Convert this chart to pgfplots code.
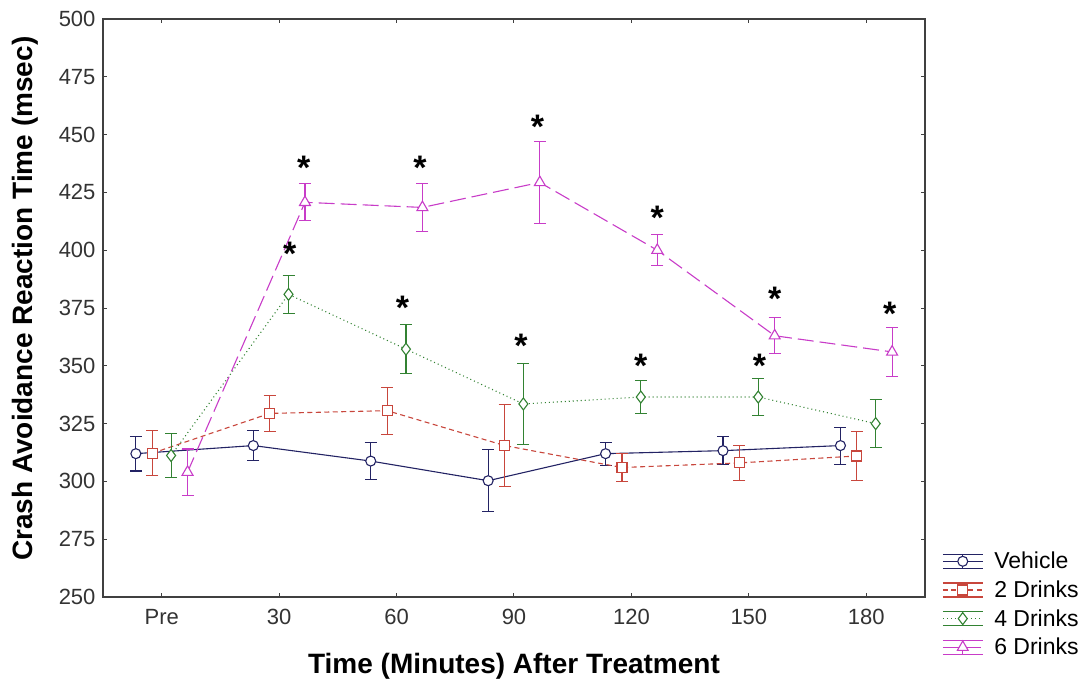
\documentclass[border=0pt]{standalone}
\usepackage{fontspec}
\setmainfont{Liberation Sans}
\usepackage{pgfplots}
\pgfplotsset{compat=1.18}
\definecolor{cnavy}{HTML}{232364}
\definecolor{cred}{HTML}{C8463C}
\definecolor{cgreen}{HTML}{328232}
\definecolor{cmag}{HTML}{C83CC8}
\definecolor{caxis}{HTML}{404040}
\begin{document}
\begin{tikzpicture}
\useasboundingbox (-103pt,-84pt) rectangle (981pt,597pt);
\begin{axis}[
  at={(0pt,0pt)}, anchor=south west,
  scale only axis, width=822pt, height=578pt,
  xmin=-0.5, xmax=6.5, ymin=250, ymax=500,
  xtick={0,1,2,3,4,5,6},
  xticklabels={Pre,30,60,90,120,150,180},
  ytick={250,275,300,325,350,375,400,425,450,475,500},
  tick align=inside, major tick length=4pt,
  axis line style={caxis, line width=1.2pt},
  tick style={caxis, line width=1pt},
  /pgf/number format/assume math mode=true,
  ticklabel style={font=\fontsize{22}{26}\selectfont, text=black!80},
  yticklabel style={xshift=-4pt},
  xticklabel style={yshift=-9pt},
  every axis x label/.style={at={(axis description cs:0.5,0)}, anchor=base, yshift=-76pt},
  every axis y label/.style={at={(axis description cs:-0.0852,0.516)}, rotate=90, anchor=base},
  label style={font=\fontsize{28}{32}\selectfont\bfseries},
  xlabel={Time (Minutes) After Treatment},
  ylabel={Crash Avoidance Reaction Time (msec)},
  legend style={at={(axis description cs:1.0207,0.0813)}, anchor=north west, draw=none, fill=none,
    font=\fontsize{23}{27}\selectfont, inner sep=0pt, row sep=6.5pt, column sep=9pt,
    nodes={inner sep=2pt}},
  legend cell align=left,
  legend image code/.code={
    \draw[#1, solid, mark=none] (0pt,-7pt) -- (40pt,-7pt);
    \draw[#1, solid, mark=none] (0pt,7pt) -- (40pt,7pt);
    \draw[#1, solid, mark=none] (20pt,-7pt) -- (20pt,7pt);
    \draw[#1, mark=none] (0pt,0pt) -- (40pt,0pt);
    \draw[#1, solid] plot coordinates {(20pt,0pt)};
  },
  error bars/error bar style={solid, line width=1.1pt},
  error bars/error mark options={rotate=90, mark size=6pt, line width=1.1pt, solid},
]
\addplot[cnavy, line width=1.1pt, mark=*, mark options={solid, fill=white, mark size=5pt},
  error bars/.cd, y dir=both, y explicit] coordinates {
  (-0.22,312) +- (0,7.5)
  (0.78,315.5) +- (0,6.5)
  (1.78,308.8) +- (0,8)
  (2.78,300.3) +- (0,13.5)
  (3.78,312) +- (0,5)
  (4.78,313.3) +- (0,6.1)
  (5.78,315.5) +- (0,8)
};
\addlegendentry{Vehicle}
\addplot[cred, line width=1.1pt, dash pattern=on 5pt off 3.5pt, mark=square*, mark options={solid, fill=white, mark size=5pt},
  error bars/.cd, y dir=both, y explicit] coordinates {
  (-0.08,312.2) +- (0,9.7)
  (0.92,329.4) +- (0,7.8)
  (1.92,330.6) +- (0,10.2)
  (2.92,315.5) +- (0,17.6)
  (3.92,306) +- (0,6)
  (4.92,308) +- (0,7.7)
  (5.92,311) +- (0,10.7)
};
\addlegendentry{2 Drinks}
\addplot[cgreen, line width=1.1pt, dash pattern=on 1pt off 3pt, mark=diamond*, mark options={solid, fill=white, mark size=6pt},
  error bars/.cd, y dir=both, y explicit] coordinates {
  (0.08,311.2) +- (0,9.7)
  (1.08,380.9) +- (0,8.2)
  (2.08,357.2) +- (0,10.5)
  (3.08,333.5) +- (0,17.5)
  (4.08,336.5) +- (0,7)
  (5.08,336.5) +- (0,8.1)
  (6.08,325) +- (0,10.5)
};
\addlegendentry{4 Drinks}
\addplot[cmag, line width=1.1pt, dash pattern=on 16pt off 6pt, mark=triangle*, mark options={solid, fill=white, mark size=6.3pt},
  error bars/.cd, y dir=both, y explicit] coordinates {
  (0.22,304) +- (0,10)
  (1.22,420.7) +- (0,8)
  (2.22,418.5) +- (0,10.4)
  (3.22,429.3) +- (0,17.7)
  (4.22,400) +- (0,6.6)
  (5.22,363) +- (0,7.7)
  (6.22,356) +- (0,10.6)
};
\addlegendentry{6 Drinks}
\addplot[draw=none, mark=none, forget plot, point meta=y,
  nodes near coords={\textbf{*}},
  nodes near coords style={anchor=base, font=\fontsize{34}{38}\selectfont\bfseries, text=black, inner sep=0pt}]
  coordinates {
  (1.21,430.5) (2.2,430.5) (3.2,448.5) (4.22,409) (5.22,374) (6.2,367.3)
  (1.09,393.2) (2.05,370.1) (3.06,353.5) (4.08,344.9) (5.09,344.9)
};
\end{axis}
\end{tikzpicture}
\end{document}
